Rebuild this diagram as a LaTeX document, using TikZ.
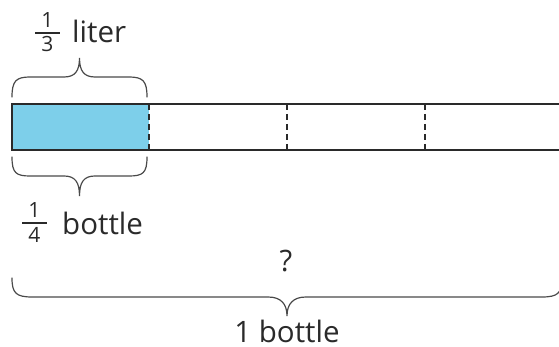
\documentclass[tikz,border=0pt]{standalone}
\usepackage{fontspec}
\setmainfont{Open Sans}
\definecolor{barfill}{HTML}{7DCFEA}
\definecolor{barline}{HTML}{2A2A2A}
\definecolor{braceline}{HTML}{4A4A4A}
\begin{document}
\begin{tikzpicture}[x=1pt,y=1pt,
  barbox/.style={draw=barline,line width=2.6pt},
  divider/.style={draw=barline,line width=2pt,dash pattern=on 6pt off 4pt},
  bracestyle/.style={draw=braceline,line width=1.2pt,line cap=round},
  lbl/.style={inner sep=0pt,font=\fontsize{29.5}{34}\selectfont,text=barline},
  fracdigit/.style={inner sep=0pt,font=\fontsize{21}{25}\selectfont,text=barline},
  fracbar/.style={draw=barline,line width=1.3pt}]
\useasboundingbox (0,0) rectangle (559,347);
% bar
\fill[barfill] (12,243) rectangle (149,197);
\draw[barbox] (563,243) -- (12,243) -- (12,197) -- (563,197);
\coordinate (d1t) at (149,243); \coordinate (d1b) at (149,197);
\coordinate (d2t) at (287,243); \coordinate (d2b) at (287,197);
\coordinate (d3t) at (425,243); \coordinate (d3b) at (425,197);
\draw[divider] (d1t) -- (d1b);
\draw[divider] (d2t) -- (d2b);
\draw[divider] (d3t) -- (d3b);
% top brace
\draw[bracestyle] (12,250) .. controls (12,266) and (16,270) .. (30,270) -- (64,270)
  .. controls (75,270) and (79.5,276) .. (79.5,289)
  .. controls (79.5,276) and (84,270) .. (95,270) -- (129,270)
  .. controls (143,270) and (147,266) .. (147,250);
% bottom small brace
\draw[bracestyle] (12,190) .. controls (12,174) and (16,171) .. (30,171) -- (64,171)
  .. controls (75,171) and (79.5,165) .. (79.5,151)
  .. controls (79.5,165) and (84,171) .. (95,171) -- (129,171)
  .. controls (143,171) and (147,174) .. (147,190);
% big brace
\draw[bracestyle] (12,69) .. controls (12,54) and (16,50) .. (32,50) -- (268,50)
  .. controls (281,50) and (287,43) .. (287,31)
  .. controls (287,43) and (293,50) .. (306,50) -- (542,50)
  .. controls (558,50) and (562,54) .. (562,69);
% top label
\node[fracdigit] (n1) at (47.5,326.5) {1};
\coordinate (f1a) at (35,314); \coordinate (f1b) at (60,314);
\draw[fracbar] (f1a) -- (f1b);
\node[fracdigit] (d1) at (47.5,302.5) {3};
\node[lbl,anchor=base west] (liter) at (72,304) {liter};
% bottom label
\node[fracdigit] (n2) at (34.5,137) {1};
\coordinate (f2a) at (22,124); \coordinate (f2b) at (47,124);
\draw[fracbar] (f2a) -- (f2b);
\node[fracdigit] (d2) at (34.5,112.5) {4};
\node[lbl,anchor=base west] (quarter) at (62,112) {bottle};
% question and whole
\node[lbl] (q) at (286,86) {?};
\node[lbl,anchor=base] (whole) at (287,4) {1 bottle};
\end{tikzpicture}
\end{document}
